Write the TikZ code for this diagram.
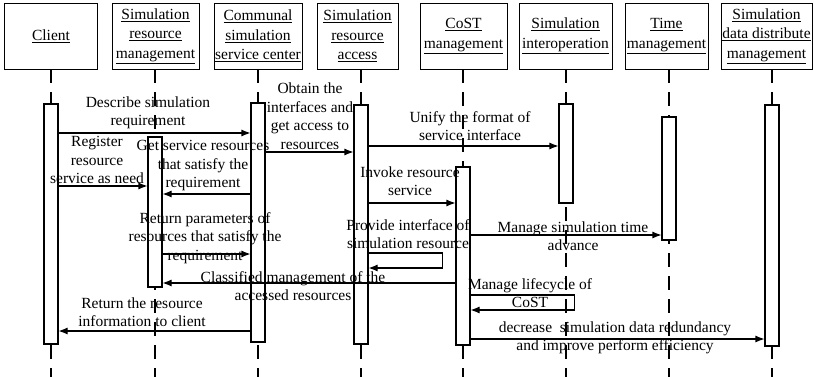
\documentclass[tikz,border=0pt]{standalone}
\usepackage{fontspec}
\setmainfont{Liberation Serif}
\usetikzlibrary{arrows.meta,positioning,backgrounds}
\tikzset{header/.style={draw,rectangle,align=center,minimum height=66pt,inner sep=0pt,
        font=\fontsize{15.5}{19.5}\selectfont},
    lifeline/.style={line width=1.4pt,dash pattern=on 14pt off 9pt},
    activation/.style={draw,line width=1.1pt,fill=white,rectangle,minimum width=14pt,inner sep=0},
    msg/.style={line width=1.1pt,-{Latex[length=9pt,width=7pt]}},
    msgtext/.style={align=center,inner sep=0pt}
}
\newcommand{\ulines}[1]{\underline{#1}}

\begin{document}
\begin{tikzpicture}[x=1pt,y=-1pt,font=\fontsize{15.5}{18.5}\selectfont]
\useasboundingbox (0,0) rectangle (814,377);

%% headers
\node (client) at (51,36) [header,minimum width=93pt] {\ulines{Client}};
\node (srm) at (155.5,36) [header,minimum width=87pt] {\ulines{Simulation}\\\ulines{resource}\\\ulines{management}};
\node (comm) at (258,36) [header,minimum width=88pt] {\ulines{Communal}\\\ulines{simulation}\\\ulines{service center}};
\node (access) at (357.5,36) [header,minimum width=81pt] {\ulines{Simulation}\\\ulines{resource}\\\ulines{access}};
\node (cost) at (463.5,36) [header,minimum width=87pt] {\ulines{CoST}\\\ulines{management}};
\node (interop) at (565.5,36) [header,minimum width=93pt] {\ulines{Simulation}\\\ulines{interoperation}};
\node (time) at (666.5,36) [header,minimum width=83pt] {\ulines{Time}\\\ulines{management}};
\node (data) at (766.5,36) [header,minimum width=91pt] {\ulines{Simulation}\\\ulines{data distribute}\\\ulines{management}};

%% activation bars
\node (actclient) at (51,224) [activation,minimum height=240pt] {};
\node (actsrm) at (155,212) [activation,minimum height=150pt] {};
\node (actcomm) at (258,222.5) [activation,minimum height=239pt] {};
\node (actaccess) at (361,224.5) [activation,minimum height=239pt] {};
\node (actcost) at (463,256) [activation,minimum height=178pt] {};
\node (actinterop) at (566,153.5) [activation,minimum height=99pt] {};
\node (acttime) at (669,178.5) [activation,minimum height=123pt] {};
\node (actdata) at (772,225.5) [activation,minimum height=241pt] {};

% lifelines
\begin{scope}[on background layer]
\foreach \p in {client,srm,comm,access,cost,interop,time,data}
    \draw [lifeline] (act\p |- \p.south) -- (act\p |- 0,377);
\end{scope}

%% messages
\node (describe) at (148,113) [msgtext] {Describe simulation\\requirement};
\draw [msg] (actclient.east |- 0,133) -- (actcomm.west |- 0,133);

\node (register) at (97,160) [msgtext] {Register\\resource\\service as need};
\draw [msg] (actclient.east |- 0,186) -- (actsrm.west |- 0,186);

\node (getres) at (203,166) [msgtext] {Get service resources\\that satisfy the\\requirement};
\draw [msg] (actcomm.west |- 0,194) -- (actsrm.east |- 0,194);

\node (obtain) at (310,116) [msgtext] {Obtain the\\interfaces and\\get access to\\resources};
\draw [msg] (actcomm.east |- 0,152) -- (actaccess.west |- 0,152);

\node (unify) at (470,126) [msgtext] {Unify the format of\\service interface};
\draw [msg] (actaccess.east |- 0,146) -- (actinterop.west |- 0,146);

\node (invoke) at (410,181) [msgtext] {Invoke resource\\service};
\draw [msg] (actaccess.east |- 0,203) -- (actcost.west |- 0,203);

% self call of resource access
\node (provide) at (408,234) [msgtext] {Provide interface of\\simulation resource};
\draw [msg] (actaccess.east |- 0,253) -- ++(74,0) -- ++(0,15) -- (actaccess.east |- 0,268);

\node (returnpar) at (205,238) [msgtext] {Return parameters of\\resources that satisfy the\\requirement};
\draw [msg] (actsrm.east |- 0,254) -- (actcomm.west |- 0,254);

\node (managetime) at (573,236) [msgtext] {Manage simulation time\\advance};
\draw [msg] (actcost.east |- 0,235) -- (acttime.west |- 0,235);

\node (classified) at (293,286) [msgtext] {Classified management of the\\accessed resources};
\draw [msg] (actcost.west |- 0,283) -- (actsrm.east |- 0,283);

% self call of CoST management
\node (lifecycle) at (530,293) [msgtext] {Manage lifecycle of\\CoST};
\draw [msg] (actcost.east |- 0,295) -- ++(104,0) -- ++(0,15) -- (actcost.east |- 0,310);

\node (returninfo) at (142,312) [msgtext] {Return the resource\\information to client};
\draw [msg] (actcomm.west |- 0,331) -- (actclient.east |- 0,331);

\node (decrease) at (615,338) [msgtext] {decrease \ simulation data redundancy\\and improve perform efficiency};
\draw [msg] (actcost.east |- 0,339) -- (actdata.west |- 0,339);

\end{tikzpicture}
\end{document}
